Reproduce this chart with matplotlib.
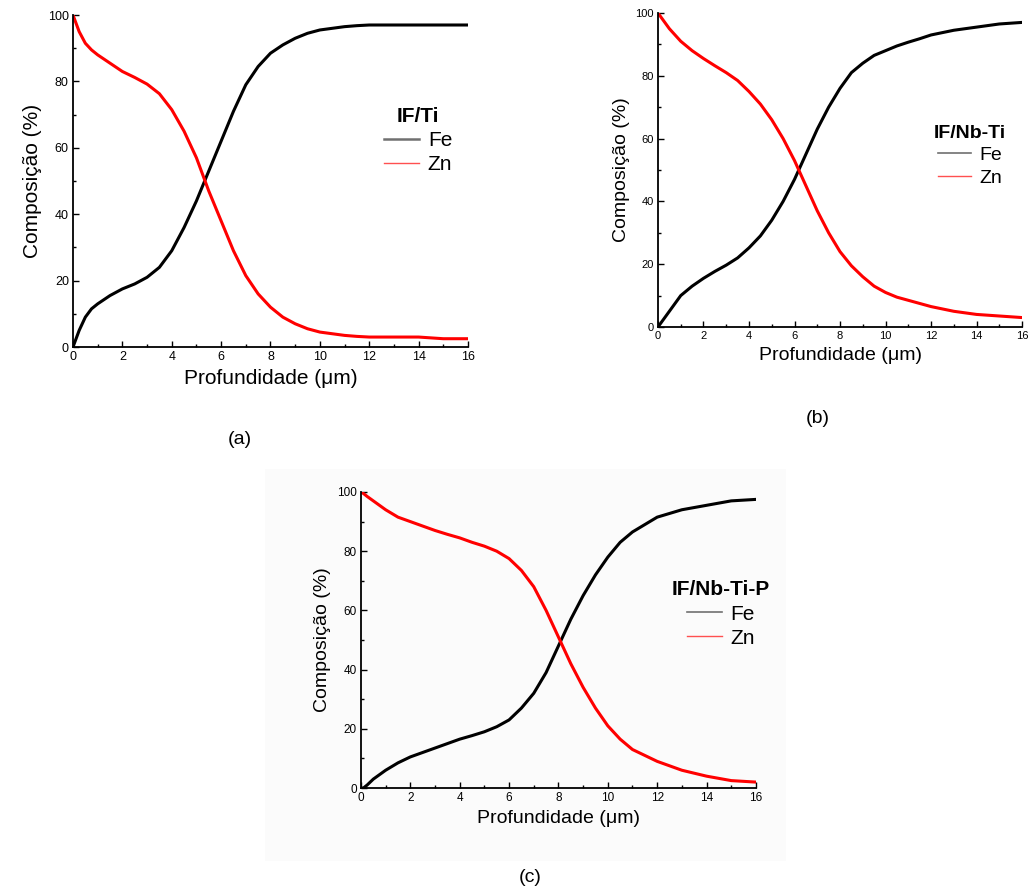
import numpy as np
import matplotlib
matplotlib.use("Agg")
import matplotlib.pyplot as plt
from matplotlib.ticker import MultipleLocator
from matplotlib.patches import Rectangle

plt.rcParams['font.family'] = ['Liberation Sans', 'DejaVu Sans']

# depth points (um)
depth = [0, 0.1, 0.25, 0.5, 0.75,
         1, 1.5, 2, 2.5, 3, 3.5, 4, 4.5, 5, 5.5, 6, 6.5, 7, 7.5, 8, 8.5, 9, 9.5,
         10, 10.5, 11, 11.5, 12, 13, 14, 15, 16]

# (a) IF/Ti
fe_a = [0, 2, 5, 9, 11.5,
        13, 15.5, 17.5, 19, 21, 24, 29, 36, 44, 53, 62, 71, 79, 84.5, 88.5, 91, 93, 94.5,
        95.5, 96, 96.5, 96.8, 97, 97, 97, 97, 97]
zn_a = [100, 98, 95, 91.5, 89.5,
        88, 85.5, 83, 81.2, 79.2, 76.3, 71.5, 65, 57, 47, 38, 29, 21.5, 16, 12, 9, 7, 5.5,
        4.5, 4, 3.5, 3.2, 3, 3, 3, 2.5, 2.5]

# (b) IF/Nb-Ti
fe_b = [0, 1, 2.5, 5, 7.5,
        10, 13, 15.5, 17.7, 19.7, 22, 25.2, 29, 34, 40, 47, 55, 63, 70, 76, 81, 84, 86.5,
        88, 89.5, 90.7, 91.8, 93, 94.5, 95.5, 96.5, 97]
zn_b = [100, 99, 97.5, 95, 93,
        91, 88, 85.5, 83.2, 81, 78.5, 75, 71, 66, 60, 53, 45, 37, 30, 24, 19.5, 16, 13,
        11, 9.5, 8.5, 7.5, 6.5, 5, 4, 3.5, 3]

# (c) IF/Nb-Ti-P
fe_c = [0, 0, 1, 3, 4.5,
        6, 8.5, 10.5, 12, 13.5, 15, 16.5, 17.7, 19, 20.7, 23, 27, 32, 39, 48, 57, 65, 72,
        78, 83, 86.5, 89, 91.5, 94, 95.5, 97, 97.5]
zn_c = [100, 99.5, 98.5, 97, 95.5,
        94, 91.5, 90, 88.5, 87, 85.7, 84.5, 83, 81.7, 80, 77.5, 73.5, 68, 60, 51, 42, 34, 27,
        21, 16.5, 13, 11, 9, 6, 4, 2.5, 2]

panels = [
    # axes rect, fe, zn, legend title, legend anchor, tick size, label size, legend size, sub label, sub pos
    ([0.0708, 0.6101, 0.3831, 0.3730], fe_a, zn_a, 'IF/Ti', (0.74, 0.78), 9, 15, 15, '(a)', (0.233, 0.506)),
    ([0.6382, 0.6326, 0.3531, 0.3528], fe_b, zn_b, 'IF/Nb-Ti', (0.71, 0.70), 8, 14, 14, '(b)', (0.793, 0.530)),
    ([0.3501, 0.1146, 0.3831, 0.3326], fe_c, zn_c, 'IF/Nb-Ti-P', (0.74, 0.765), 8.5, 14, 15, '(c)', (0.514, 0.0135)),
]

fig = plt.figure(figsize=(10.31, 8.9), dpi=100)

# barely visible grey backdrop behind panel (c), as in the scanned original
fig.patches.append(Rectangle((0.257, 0.033), 0.505, 0.44, transform=fig.transFigure,
                             facecolor='#fbfbfb', edgecolor='none', zorder=-1))

for rect, fe, zn, title, anchor, tsize, lsize, gsize, sub, subpos in panels:
    ax = fig.add_axes(rect)
    ax.patch.set_alpha(0)
    ax.plot(depth, fe, color='black', lw=2.2, label='Fe')
    ax.plot(depth, zn, color='#ff0000', lw=2.2, label='Zn')
    ax.set_xlim(0, 16)
    ax.set_ylim(0, 100)
    ax.xaxis.set_major_locator(MultipleLocator(2))
    ax.xaxis.set_minor_locator(MultipleLocator(1))
    ax.yaxis.set_major_locator(MultipleLocator(20))
    ax.yaxis.set_minor_locator(MultipleLocator(10))
    ax.tick_params(which='both', direction='in', labelsize=tsize, width=1, pad=3)
    ax.tick_params(which='major', length=4)
    ax.tick_params(which='minor', length=2.5)
    ax.spines['top'].set_visible(False)
    ax.spines['right'].set_visible(False)
    ax.spines['left'].set_linewidth(1.3)
    ax.spines['bottom'].set_linewidth(1.3)
    ax.set_xlabel('Profundidade (\u03bcm)', fontsize=lsize, labelpad=4)
    ax.set_ylabel('Composi\u00e7\u00e3o (%)', fontsize=lsize, labelpad=4)
    leg = ax.legend(title=title, loc='upper left', bbox_to_anchor=anchor, frameon=False,
                    fontsize=gsize, handlelength=1.7, handletextpad=0.4, labelspacing=0.25,
                    title_fontproperties={'weight': 'bold', 'size': gsize})
    fe_h, zn_h = leg.get_lines()
    fe_h.set_color('#707070')
    fe_h.set_linewidth(1.8 if sub == '(a)' else 1.2)
    zn_h.set_color('#ff5050')
    zn_h.set_linewidth(1.0)
    fig.text(subpos[0], subpos[1], sub, fontsize=14, ha='center', va='center')

fig.savefig('out.png', dpi=100)
